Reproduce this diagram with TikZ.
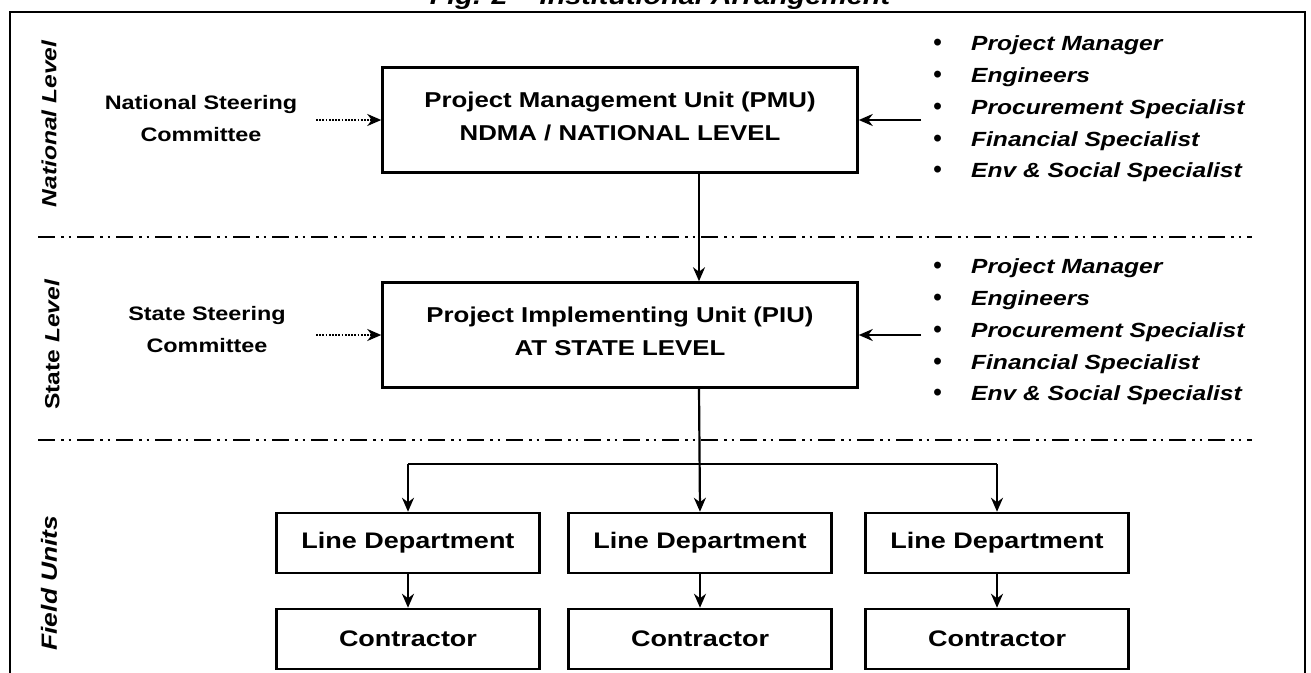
\documentclass[tikz,border=0pt]{standalone}
\usepackage{fontspec}
\setmainfont{Liberation Sans}[FakeStretch=1.2]
\newfontfamily\dotfont{Liberation Sans}
\usetikzlibrary{arrows.meta}

\begin{document}
\begin{tikzpicture}[x=1pt,y=-1pt,>={Stealth[length=14pt,width=12pt,inset=4.5pt]},->,line width=2.2pt,
  unit/.style={draw,-,line width=2.5pt,minimum width=475pt,minimum height=105pt,text depth=8pt,
    align=center,font=\fontsize{21.5}{33}\selectfont\bfseries},
  field/.style={draw,-,line width=2.5pt,minimum width=263pt,minimum height=60pt,
    font=\fontsize{22.5}{26}\selectfont\bfseries},
  committee/.style={align=center,font=\fontsize{19.5}{32}\selectfont\bfseries},
  staff/.style={anchor=west,inner sep=0pt,font=\fontsize{20.5}{31.8}\selectfont\bfseries\itshape},
  level/.style={rotate=90,font=\fontsize{20.5}{24}\selectfont\bfseries\itshape},
  separator/.style={-,line width=2.2pt,dash pattern=on 17pt off 6pt on 2.5pt off 5pt on 2.5pt off 6pt}]

  \useasboundingbox (0,0) rectangle (1311,672);
  \clip (0,0) rectangle (1311,672);

  % title and frame
  \node[anchor=base,font=\fontsize{24}{28}\selectfont\bfseries\itshape] (title) at (660,4)
    {Fig. 2 -- Institutional Arrangement};
  \draw[-,line width=2.5pt] (10,690) -- (10,12) -- (1305,12) -- (1305,690);

  % level labels
  \node[level] (natlabel) at (49,124) {National Level};
  \node[level] (statelabel) at (52,345) {\upshape State \itshape Level};
  \node[level,font=\fontsize{22}{24}\selectfont\bfseries\itshape] (fieldlabel) at (49,583) {Field Units};

  \draw[separator] (38,237) -- (1252,237);
  \draw[separator] (38,440) -- (1252,440);

  % national level
  \node[committee] (nsc) at (201,119) {National Steering\\Committee};
  \node[unit] (pmu) at (620,120) {Project Management Unit (PMU)\\NDMA / NATIONAL LEVEL};
  \node[staff] (natstaff) at (932,108) {\begin{tabular}{@{}p{38pt}@{}l@{}}
    {\dotfont\fontsize{24}{24}\selectfont\textbullet} & Project Manager\\
    {\dotfont\fontsize{24}{24}\selectfont\textbullet} & Engineers\\
    {\dotfont\fontsize{24}{24}\selectfont\textbullet} & Procurement Specialist\\
    {\dotfont\fontsize{24}{24}\selectfont\textbullet} & Financial Specialist\\
    {\dotfont\fontsize{24}{24}\selectfont\textbullet} & Env \& Social Specialist
  \end{tabular}};

  % state level
  \node[committee] (ssc) at (207,330) {State Steering\\Committee};
  \node[unit] (piu) at (620,335) {Project Implementing Unit (PIU)\\AT STATE LEVEL};
  \node[staff] (statestaff) at (932,331) {\begin{tabular}{@{}p{38pt}@{}l@{}}
    {\dotfont\fontsize{24}{24}\selectfont\textbullet} & Project Manager\\
    {\dotfont\fontsize{24}{24}\selectfont\textbullet} & Engineers\\
    {\dotfont\fontsize{24}{24}\selectfont\textbullet} & Procurement Specialist\\
    {\dotfont\fontsize{24}{24}\selectfont\textbullet} & Financial Specialist\\
    {\dotfont\fontsize{24}{24}\selectfont\textbullet} & Env \& Social Specialist
  \end{tabular}};

  % field units
  \node[field] (ld1) at (408,543) {Line Department};
  \node[field] (ld2) at (700,543) {Line Department};
  \node[field] (ld3) at (997,543) {Line Department};
  \node[field] (con1) at (408,639) {Contractor};
  \node[field] (con2) at (700,639) {Contractor};
  \node[field] (con3) at (997,639) {Contractor};

  \coordinate (dotstart) at (316,0);
  \coordinate (liststart) at (921,0);
  \coordinate (spine) at (699,0);
  \coordinate (fork) at (699,464);

  \path[every edge/.style={draw,dash pattern=on 1.7pt off 1.5pt}]
    (dotstart |- pmu.west) edge (pmu.west)
    (dotstart |- piu.west) edge (piu.west);

  \path
    (liststart |- pmu.east) edge (pmu.east)
    (liststart |- piu.east) edge (piu.east)
    (pmu.south -| spine) edge (piu.north -| spine)
    (piu.south -| spine) edge (ld2.north)
    (fork -| ld1) edge (ld1.north)
    (fork -| ld3) edge (ld3.north)
    (ld1) edge (con1)
    (ld2) edge (con2)
    (ld3) edge (con3);
  \draw[-] (fork -| ld1) -- (fork -| ld3);

\end{tikzpicture}
\end{document}
